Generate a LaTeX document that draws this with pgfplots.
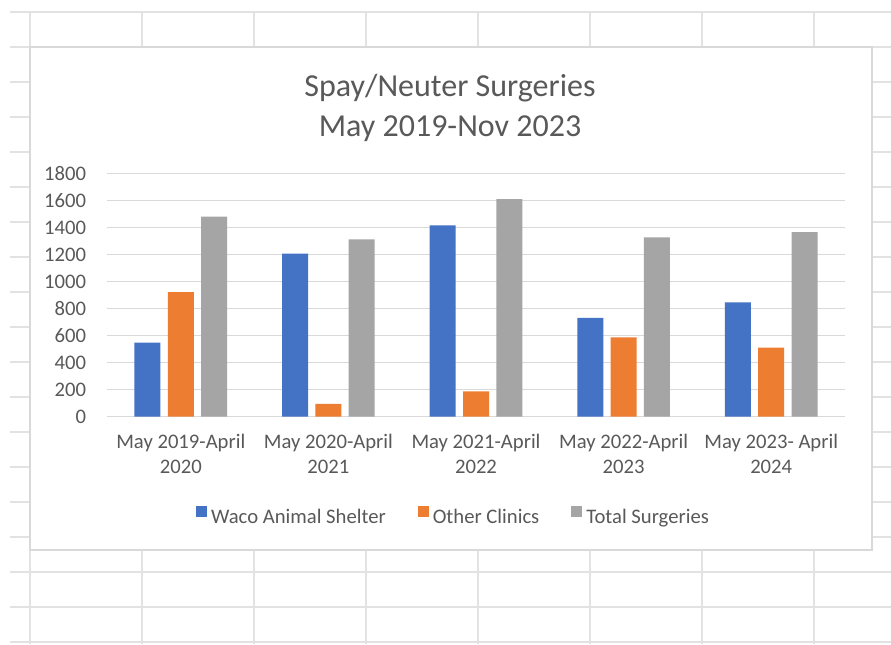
\documentclass[border=0pt]{standalone}
\usepackage{pgfplots}
\pgfplotsset{compat=1.18}
\usepackage{pgfplotstable}
\usepackage{fontspec}
\setmainfont{Carlito}
\definecolor{cblue}{HTML}{4472C4}
\definecolor{corange}{HTML}{ED7D31}
\definecolor{cgray}{HTML}{A5A5A5}
\definecolor{ctext}{HTML}{595959}
\definecolor{cgrid}{HTML}{D9D9D9}
\definecolor{csheet}{HTML}{E2E2E2}
\pgfplotstableread{
x waco other total
0 547 922 1479
1 1206 94 1312
2 1415 187 1610
3 730 587 1326
4 846 510 1366
}\surgdata
\begin{document}
\begin{tikzpicture}
\begin{scope}[x=0.75pt,y=0.75pt]
\useasboundingbox (0,0) rectangle (891,-644);
\fill[white] (0,0) rectangle (891,-644);
\foreach \yy in {12,47,...,642} \draw[csheet, line width=1.3pt] (10,-\yy) -- (891,-\yy);
\foreach \xx in {30,142,...,891} \draw[csheet,line width=1.3pt] (\xx,-12) -- (\xx,-644);
\filldraw[fill=white,draw=cgrid,line width=1pt] (30,-47) rectangle (872,-550);
\node[font=\fontsize{24}{30}\selectfont, text=ctext, align=center] at (450,-108) {Spay/Neuter Surgeries\\May 2019-Nov 2023};
\end{scope}
\begin{axis}[
  at={(80.25pt,-312.5pt)}, anchor=south west,
  scale only axis, width=553.5pt, height=182.5pt,
  xmin=-0.5, xmax=4.5, ymin=0, ymax=1800,
  ytick={0,200,...,1800},
  xtick={0,1,2,3,4},
  xticklabels={{May 2019-April\\2020},{May 2020-April\\2021},{May 2021-April\\2022},{May 2022-April\\2023},{May 2023- April\\2024}},
  ymajorgrids, grid style={cgrid, line width=1pt},
  axis line style={draw=none}, major tick length=0pt,
  /pgf/number format/assume math mode=true,
  /pgf/number format/1000 sep={},
  tick label style={font=\fontsize{15.5}{18.75}\selectfont, text=ctext},
  xticklabel style={align=center, inner sep=0pt, yshift=-13pt},
  yticklabel style={inner sep=0pt, xshift=-15.5pt},
  ybar=5.5pt, bar width=19.5pt,
  legend columns=3,
  legend style={at={(0.470,-0.412)}, anchor=center, draw=none, fill=none,
    font=\fontsize{15.5}{18.75}\selectfont, text=ctext,
    /tikz/every odd column/.append style={column sep=1pt},
    /tikz/every even column/.append style={column sep=22pt}},
  legend image code/.code={\fill[#1] (0pt,-0.4pt) rectangle (8.25pt,7.85pt);},
]
\addplot[fill=cblue, draw=none] table[x=x,y=waco]{\surgdata};
\addplot[fill=corange, draw=none] table[x=x,y=other]{\surgdata};
\addplot[fill=cgray, draw=none] table[x=x,y=total]{\surgdata};
\legend{Waco Animal Shelter, Other Clinics, Total Surgeries}
\end{axis}
\end{tikzpicture}
\end{document}
